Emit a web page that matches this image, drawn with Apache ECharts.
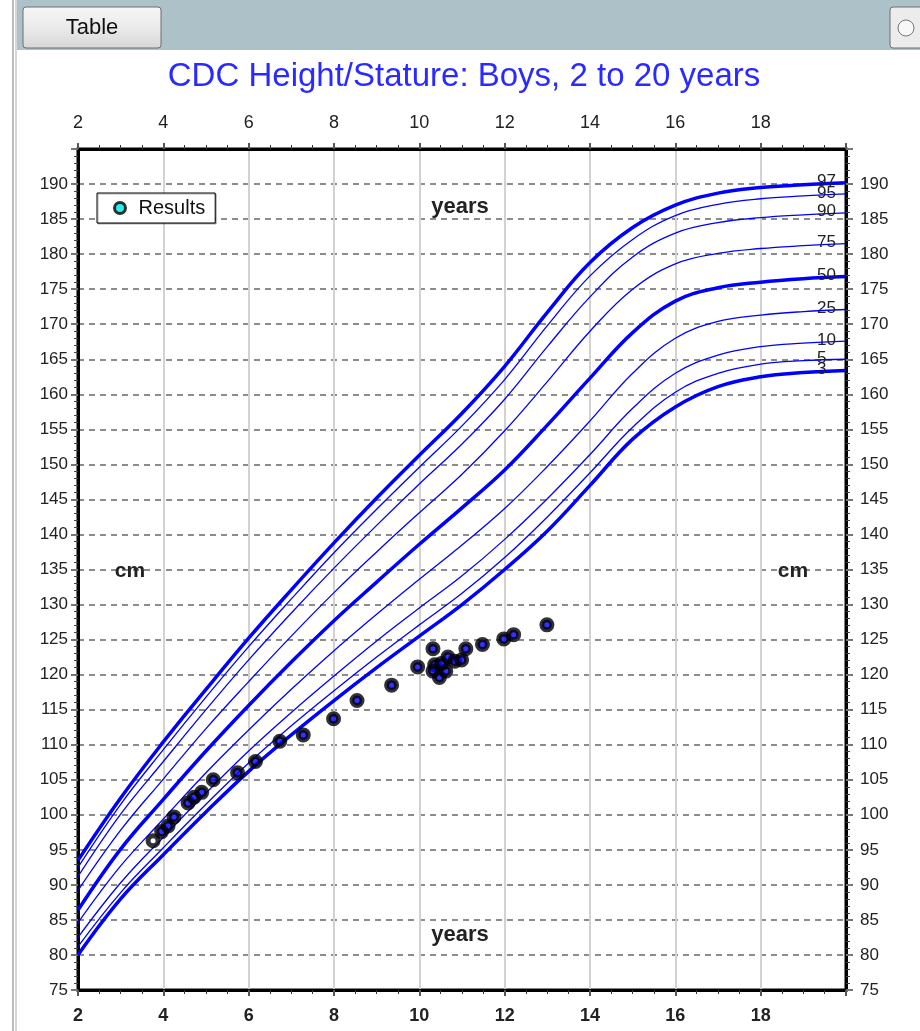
<!DOCTYPE html>
<html>
<head>
<meta charset="utf-8">
<script src="https://cdn.jsdelivr.net/npm/echarts@6/dist/echarts.min.js"></script>
<style>
  html, body { margin: 0; padding: 0; background: #fff; }
  #chart { width: 920px; height: 1031px; }
</style>
</head>
<body>
<div id="chart"></div>
<script>
// ages in years for the percentile curves
const ages = [2, 3, 4, 5, 6, 7, 8, 9, 10, 11, 12, 13, 14, 15, 16, 17, 18, 19, 20];

// percentile curves, stature in cm
const p3  = [80.0, 88.0, 94.3, 100.4, 106.2, 111.4, 116.3, 121.0, 125.5, 130.0, 135.0, 140.5, 147.0, 153.6, 158.2, 161.1, 162.5, 163.1, 163.4];
const p5  = [81.2, 88.9, 95.3, 101.5, 107.4, 112.7, 117.7, 122.5, 127.1, 131.6, 136.7, 142.5, 148.8, 155.3, 160.3, 163.0, 164.3, 164.8, 165.0];
const p10 = [82.5, 90.3, 96.8, 103.1, 109.1, 114.6, 119.8, 124.8, 129.5, 134.1, 139.3, 145.1, 151.4, 158.0, 163.0, 165.6, 166.8, 167.3, 167.6];
const p25 = [84.6, 92.7, 99.4, 106.0, 112.1, 117.9, 123.4, 128.6, 133.6, 138.5, 143.7, 149.7, 156.2, 163.0, 168.0, 170.4, 171.3, 171.8, 172.1];
const p50 = [86.4, 95.1, 102.2, 109.1, 115.6, 121.8, 127.7, 133.2, 138.6, 143.8, 149.2, 155.6, 162.3, 168.8, 173.3, 175.2, 176.0, 176.5, 176.8];
const p75 = [89.2, 97.8, 105.1, 112.3, 119.0, 125.5, 131.7, 137.5, 143.1, 148.6, 154.8, 161.8, 169.0, 175.0, 178.6, 180.1, 180.8, 181.2, 181.5];
const p90 = [91.2, 100.1, 107.6, 115.0, 122.1, 128.8, 135.2, 141.3, 147.2, 152.9, 159.3, 166.8, 173.9, 179.6, 183.0, 184.5, 185.2, 185.6, 185.9];
const p95 = [92.5, 101.5, 109.3, 116.8, 124.0, 130.8, 137.4, 143.6, 149.6, 155.5, 162.1, 169.8, 176.9, 182.1, 185.5, 187.1, 187.9, 188.3, 188.6];
const p97 = [93.5, 102.4, 110.4, 117.9, 125.2, 132.1, 138.8, 145.2, 151.3, 157.3, 164.0, 171.7, 178.8, 183.8, 187.0, 188.7, 189.5, 189.9, 190.2];

// measured results
const resultAges = [3.76, 3.96, 4.11, 4.25, 4.58, 4.72, 4.90, 5.17, 5.74, 6.16, 6.73, 7.28, 7.99, 8.54, 9.35, 9.96,
  10.32, 10.36, 10.32, 10.47, 10.62, 10.52, 10.67, 10.83, 10.99, 11.09, 11.48, 11.98, 12.21, 12.99];
const resultHeights = [96.3, 97.6, 98.4, 99.7, 101.7, 102.5, 103.2, 105.0, 106.0, 107.6, 110.5, 111.4, 113.7, 116.3, 118.5, 121.1,
  123.7, 121.4, 120.5, 119.6, 120.5, 121.6, 122.5, 121.9, 122.1, 123.7, 124.3, 125.1, 125.7, 127.1];

const curves = [
  { name: '97', values: p97, thick: true },
  { name: '95', values: p95, thick: false },
  { name: '90', values: p90, thick: false },
  { name: '75', values: p75, thick: false },
  { name: '50', values: p50, thick: true },
  { name: '25', values: p25, thick: false },
  { name: '10', values: p10, thick: false },
  { name: '5', values: p5, thick: false },
  { name: '3', values: p3, thick: true }
];

const font = 'Arial, Liberation Sans, sans-serif';

const chart = echarts.init(document.getElementById('chart'));

const lineSeries = curves.map(function (c) {
  return {
    name: c.name,
    type: 'line',
    data: ages.map(function (a, i) { return [a, c.values[i]]; }),
    showSymbol: false,
    smooth: 0.4,
    silent: true,
    lineStyle: { color: '#0000ff', width: c.thick ? 3.5 : 1.3 },
    endLabel: {
      show: true,
      formatter: c.name,
      distance: 0,
      align: 'left',
      verticalAlign: 'middle',
      offset: [-29, -1],
      fontFamily: font,
      fontSize: 17,
      color: '#222'
    },
    z: 2
  };
});

const points = resultAges.map(function (a, i) {
  const p = { value: [a, resultHeights[i]] };
  if (i === 0) p.itemStyle = { color: '#ffffff' };
  return p;
});

const option = {
  animation: false,
  backgroundColor: '#ffffff',
  title: {
    text: 'CDC Height/Stature: Boys, 2 to 20 years',
    left: 459,
    top: 55,
    textAlign: 'center',
    textStyle: { color: '#2a2aff', fontSize: 33, fontWeight: 'normal', fontFamily: font }
  },
  legend: {
    data: [{ name: 'Results', icon: 'circle', itemStyle: { color: '#00e5e5', borderColor: '#000', borderWidth: 3 } }],
    left: 97,
    top: 193,
    itemWidth: 11,
    itemHeight: 11,
    padding: [5, 10, 5, 16],
    backgroundColor: '#ffffff',
    borderColor: '#000',
    borderWidth: 1,
    shadowColor: 'rgba(0,0,0,0.3)',
    shadowOffsetX: 1,
    shadowOffsetY: 1,
    textStyle: { fontSize: 20, color: '#111', fontFamily: font, padding: [0, 0, 0, 8] }
  },
  grid: {
    left: 78,
    top: 149,
    width: 768,
    height: 841,
    show: true,
    borderColor: '#000',
    borderWidth: 3
  },
  xAxis: [
    {
      type: 'value', position: 'bottom', min: 2, max: 20, interval: 2,
      axisLine: { show: true, onZero: false, lineStyle: { color: '#000', width: 3 } },
      axisTick: { show: true, length: 6, lineStyle: { color: '#555', width: 2 } },
      minorTick: { show: true, splitNumber: 4, length: 4, lineStyle: { color: '#333' } },
      axisLabel: { showMaxLabel: false, margin: 17, fontSize: 18, fontWeight: 'bold', color: '#222', fontFamily: font },
      splitLine: { show: true, lineStyle: { color: '#d2d2d2', width: 2 } }
    },
    {
      type: 'value', position: 'top', min: 2, max: 20, interval: 2,
      axisLine: { show: true, onZero: false, lineStyle: { color: '#000', width: 3 } },
      axisTick: { show: true, length: 6, lineStyle: { color: '#555', width: 2 } },
      minorTick: { show: true, splitNumber: 4, length: 4, lineStyle: { color: '#333' } },
      axisLabel: { showMaxLabel: false, margin: 17, fontSize: 18, color: '#222', fontFamily: font },
      splitLine: { show: false }
    }
  ],
  yAxis: [
    {
      type: 'value', position: 'left', min: 75, max: 195, interval: 5,
      axisLine: { show: true, onZero: false, lineStyle: { color: '#000', width: 3 } },
      axisTick: { show: true, length: 7, lineStyle: { color: '#777', width: 2 } },
      minorTick: { show: true, splitNumber: 5, length: 4, lineStyle: { color: '#444' } },
      axisLabel: { showMaxLabel: false, margin: 10, fontSize: 17, color: '#222', fontFamily: font },
      splitLine: { show: true, lineStyle: { color: '#8c8c8c', width: 2, type: [6, 5] } }
    },
    {
      type: 'value', position: 'right', min: 75, max: 195, interval: 5,
      axisLine: { show: true, onZero: false, lineStyle: { color: '#000', width: 3 } },
      axisTick: { show: true, length: 7, lineStyle: { color: '#777', width: 2 } },
      minorTick: { show: true, splitNumber: 5, length: 4, lineStyle: { color: '#444' } },
      axisLabel: { showMaxLabel: false, margin: 14, fontSize: 17, color: '#222', fontFamily: font },
      splitLine: { show: false }
    }
  ],
  series: lineSeries.concat([
    {
      name: 'Results',
      type: 'scatter',
      data: points,
      symbol: 'circle',
      symbolSize: 10,
      itemStyle: { color: '#0000ff', borderColor: '#000', borderWidth: 5 },
      z: 5
    }
  ]),
  graphic: [
    // window chrome above the chart
    { type: 'rect', shape: { x: 0, y: 0, width: 920, height: 1031 }, style: { fill: '#ffffff' }, z: -10, silent: true },
    { type: 'rect', shape: { x: 17, y: 0, width: 903, height: 50 }, style: { fill: '#adc1c8' }, z: -5, silent: true },
    { type: 'rect', shape: { x: 12, y: 0, width: 2, height: 1031 }, style: { fill: '#bdbdbd' }, silent: true },
    { type: 'rect', shape: { x: 15, y: 0, width: 2, height: 1031 }, style: { fill: '#d6d6d6' }, silent: true },
    {
      type: 'rect', shape: { x: 23, y: 7, width: 138, height: 41, r: 3 },
      style: {
        fill: new echarts.graphic.LinearGradient(0, 0, 0, 1, [
          { offset: 0, color: '#f6f6f6' }, { offset: 0.5, color: '#ebebeb' }, { offset: 1, color: '#d6d6d6' }
        ]),
        stroke: '#6f6f6f', lineWidth: 1
      },
      silent: true
    },
    { type: 'text', x: 92, y: 28, style: { text: 'Table', fontSize: 22, fontFamily: font, fill: '#111', align: 'center', verticalAlign: 'middle' }, silent: true },
    {
      type: 'rect', shape: { x: 890, y: 7, width: 40, height: 41, r: 3 },
      style: { fill: '#ececec', stroke: '#6f6f6f', lineWidth: 1 }, silent: true
    },
    { type: 'circle', shape: { cx: 906, cy: 28, r: 8 }, style: { fill: '#f8f8f8', stroke: '#777', lineWidth: 1 }, silent: true },
    // axis captions inside the plot
    { type: 'text', x: 460, y: 207, style: { text: 'years', fontSize: 22, fontWeight: 'bold', fontFamily: font, fill: '#222', align: 'center', verticalAlign: 'middle' }, z: 10 },
    { type: 'text', x: 460, y: 935, style: { text: 'years', fontSize: 22, fontWeight: 'bold', fontFamily: font, fill: '#222', align: 'center', verticalAlign: 'middle' }, z: 10 },
    { type: 'text', x: 130, y: 571, style: { text: 'cm', fontSize: 21, fontWeight: 'bold', fontFamily: font, fill: '#222', align: 'center', verticalAlign: 'middle' }, z: 10 },
    { type: 'text', x: 793, y: 571, style: { text: 'cm', fontSize: 21, fontWeight: 'bold', fontFamily: font, fill: '#222', align: 'center', verticalAlign: 'middle' }, z: 10 }
  ]
};

chart.setOption(option);
</script>
</body>
</html>
